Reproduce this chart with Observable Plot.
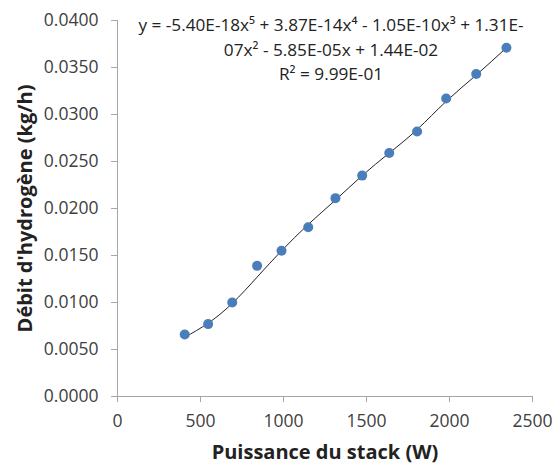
<!DOCTYPE html>
<html><head><meta charset="utf-8">
<script src="https://cdn.jsdelivr.net/npm/d3@7"></script>
<script src="https://cdn.jsdelivr.net/npm/@observablehq/plot@0.6"></script>
<style>body{margin:0;background:#fff;} svg{display:block;}</style>
</head><body><div id="chart"></div>
<script>
const puissance = [405, 546, 691, 841, 988, 1149, 1313, 1474, 1637, 1805, 1980, 2161, 2343];
const debit = [0.0066, 0.0077, 0.0100, 0.0139, 0.0155, 0.0180, 0.0211, 0.0235, 0.0259, 0.0282, 0.0317, 0.0343, 0.0371];
const tendance = [0.0063, 0.0078, 0.0099, 0.0127, 0.0155, 0.0183, 0.0209, 0.0235, 0.0259, 0.0284, 0.0314, 0.0342, 0.0371];
const xTicks = [0, 500, 1000, 1500, 2000, 2500];
const yTicks = [0, 0.005, 0.01, 0.015, 0.02, 0.025, 0.03, 0.035, 0.04];
const xLabel = "Puissance du stack (W)";
const yLabel = "Débit d'hydrogène (kg/h)";
const equation = "y = -5.40E-18x⁵ + 3.87E-14x⁴ - 1.05E-10x³ + 1.31E-\n07x² - 5.85E-05x + 1.44E-02\nR² = 9.99E-01";

const points = puissance.map((p, i) => ({x: p, y: debit[i]}));
const trend = puissance.map((p, i) => ({x: p, y: tendance[i]}));

const font = "'Open Sans', sans-serif";
const chart = Plot.plot({
  width: 554,
  height: 465,
  marginLeft: 117,
  marginRight: 22,
  marginTop: 20,
  marginBottom: 69,
  style: {fontFamily: font, background: "#fff"},
  x: {domain: [0, 2500]},
  y: {domain: [0, 0.04]},
  marks: [
    Plot.ruleY([0], {stroke: "#a6a6a6"}),
    Plot.ruleX([0], {stroke: "#a6a6a6"}),
    Plot.axisX(xTicks, {tickSize: 6, tickPadding: 12, stroke: "#a6a6a6", fill: "#404040", fontSize: 17.5, label: null, tickFormat: d => String(d)}),
    Plot.axisY(yTicks, {tickSize: 6, tickPadding: 13, stroke: "#a6a6a6", fill: "#404040", fontSize: 17.5, label: null, tickFormat: d => d.toFixed(4)}),
    Plot.line(trend, {x: "x", y: "y", curve: "natural", stroke: "#222", strokeWidth: 1}),
    Plot.dot(points, {x: "x", y: "y", r: 5, fill: "#4a7ebb", stroke: "none"}),
    Plot.text([equation], {frameAnchor: "top", dx: 6, dy: -7, lineAnchor: "top", lineHeight: 1.43, fontSize: 17.2, fill: "#222"}),
    Plot.text([xLabel], {frameAnchor: "bottom", dy: 56, lineAnchor: "middle", fontSize: 20, fontWeight: "bold", fill: "#222"}),
    Plot.text([yLabel], {frameAnchor: "left", textAnchor: "middle", lineAnchor: "middle", dx: -92, rotate: -90, fontSize: 20, fontWeight: "bold", fill: "#222"})
  ]
});
document.getElementById("chart").appendChild(chart);
</script>
</body></html>
